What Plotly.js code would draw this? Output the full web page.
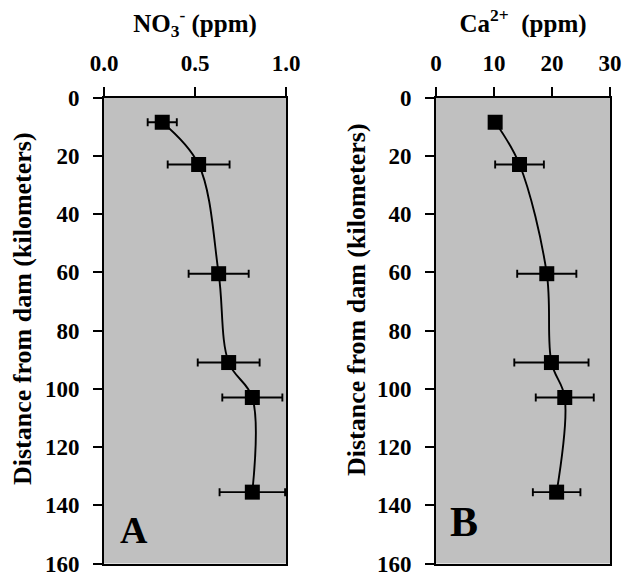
<!DOCTYPE html>
<html>
<head>
<meta charset="utf-8">
<script src="https://cdn.plot.ly/plotly-3.0.1.min.js"></script>
<style>
  html, body { margin: 0; padding: 0; background: #fff; }
  #chart { width: 624px; height: 575px; }
</style>
</head>
<body>
<div id="chart"></div>
<script>
// Distance from dam (km) for each sampling site
var distance = [8.5, 23, 60.5, 91, 103, 135.5];
// Panel A: nitrate (ppm)
var no3 = [0.32, 0.52, 0.63, 0.685, 0.815, 0.815];
var no3Err = [0.08, 0.17, 0.165, 0.17, 0.165, 0.18];
// Panel B: calcium (ppm)
var ca = [10.2, 14.4, 19.1, 19.9, 22.2, 20.8];
var caErr = [1, 4.2, 5.1, 6.4, 5.0, 4.1];
// Tick labels
var distTicks = [0, 20, 40, 60, 80, 100, 120, 140, 160];
var no3Ticks = [0, 0.5, 1.0];
var no3TickText = ['0.0', '0.5', '1.0'];
var caTicks = [0, 10, 20, 30];
var yTitle = 'Distance from dam (kilometers)';

var FONT = 'Liberation Serif, Times New Roman, serif';

function series(x, err, xa, ya) {
  return {
    x: x, y: distance, xaxis: xa, yaxis: ya,
    type: 'scatter', mode: 'lines+markers',
    line: { color: '#000', width: 1.9, shape: 'spline', smoothing: 1 },
    marker: { symbol: 'square', size: 15, color: '#000' },
    error_x: { type: 'data', array: err, visible: true, color: '#000', thickness: 1.9, width: 4 },
    showlegend: false, hoverinfo: 'x+y'
  };
}

var data = [
  series(no3, no3Err, 'x', 'y'),
  series(ca, caErr, 'x2', 'y2')
];

function tickFont() { return { family: FONT, size: 23, color: '#000', weight: 700 }; }
function titleFont(s) { return { family: FONT, size: s, color: '#000', weight: 700 }; }

function xAxis(domain, range, tickvals, ticktext, title, anchor) {
  return {
    domain: domain, range: range, anchor: anchor, side: 'top',
    tickmode: 'array', tickvals: tickvals, ticktext: ticktext,
    ticks: 'outside', ticklen: 9, tickwidth: 2, tickcolor: '#000',
    ticklabelstandoff: 6, ticklabeloverflow: 'allow',
    showline: true, linewidth: 2, linecolor: '#000', mirror: true,
    showgrid: false, zeroline: false, tickfont: tickFont(),
    title: { text: title, font: titleFont(25), standoff: 12 }
  };
}
function yAxis(domain, anchor) {
  return {
    domain: domain, range: [160, 0], anchor: anchor,
    tickmode: 'array', tickvals: distTicks,
    ticks: 'outside', ticklen: 9, tickwidth: 2, tickcolor: '#000',
    ticklabelstandoff: 9, ticklabeloverflow: 'allow',
    showline: true, linewidth: 2, linecolor: '#000', mirror: true,
    showgrid: false, zeroline: false, tickfont: tickFont()
  };
}

var yDom = [1 - 563.5 / 575, 1 - 97.5 / 575];

function yTitleAnn(px, py) {
  return {
    text: yTitle, xref: 'paper', yref: 'paper', x: px / 624, y: 1 - py / 575,
    xanchor: 'center', yanchor: 'middle', textangle: -90, showarrow: false,
    font: titleFont(26)
  };
}

var layout = {
  width: 624, height: 575,
  margin: { l: 0, r: 0, t: 0, b: 0 },
  paper_bgcolor: '#fff',
  plot_bgcolor: '#c0c0c0',
  font: { family: FONT, color: '#000' },
  xaxis: xAxis([104 / 624, 286 / 624], [0, 1], no3Ticks, no3TickText, 'NO<sub>3</sub><sup>-</sup> (ppm)', 'y'),
  yaxis: yAxis(yDom, 'x'),
  xaxis2: xAxis([436 / 624, 610 / 624], [0, 30], caTicks, caTicks.map(String), 'Ca<sup>2+</sup>  (ppm)', 'y2'),
  yaxis2: yAxis(yDom, 'x2'),
  annotations: [
    yTitleAnn(22, 309),
    yTitleAnn(356, 300),
    { text: 'A', xref: 'x domain', yref: 'y domain', x: 0.163, y: 0.071,
      xanchor: 'center', yanchor: 'middle', showarrow: false,
      font: { family: FONT, size: 38, color: '#000', weight: 700 } },
    { text: 'B', xref: 'x2 domain', yref: 'y2 domain', x: 0.161, y: 0.088,
      xanchor: 'center', yanchor: 'middle', showarrow: false,
      font: { family: FONT, size: 42, color: '#000', weight: 700 } }
  ]
};

Plotly.newPlot('chart', data, layout, { staticPlot: true, displayModeBar: false });
</script>
</body>
</html>
